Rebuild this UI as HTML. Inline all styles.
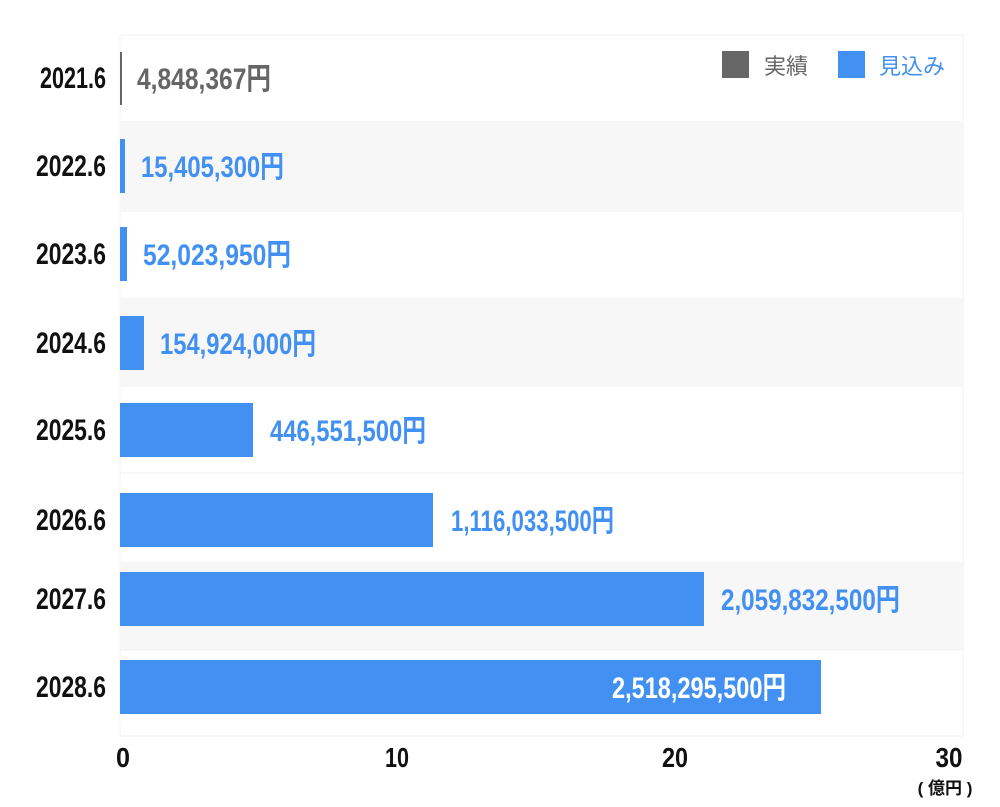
<!DOCTYPE html>
<html><head><meta charset="utf-8"><style>body{margin:0;background:#fff}</style></head><body>
<svg width="1000" height="802" xmlns="http://www.w3.org/2000/svg" font-family="Liberation Sans, Noto Sans CJK JP, sans-serif">
<rect x="120" y="35" width="843" height="701" fill="#fff" stroke="#f0f0f0"/>
<rect x="120" y="121" width="843" height="91" fill="#f7f7f7"/>
<rect x="120" y="298" width="843" height="89" fill="#f7f7f7"/>
<rect x="120" y="562" width="843" height="88" fill="#f7f7f7"/>
<line x1="120" y1="473" x2="963" y2="473" stroke="#f0f0f0"/>
<line x1="120" y1="650" x2="963" y2="650" stroke="#f0f0f0"/>
<g font-weight="bold" font-size="30" text-anchor="end" fill="#111">
<text x="106" y="88" textLength="66" lengthAdjust="spacingAndGlyphs">2021.6</text>
<text x="106" y="176" textLength="70" lengthAdjust="spacingAndGlyphs">2022.6</text>
<text x="106" y="264" textLength="70" lengthAdjust="spacingAndGlyphs">2023.6</text>
<text x="106" y="353" textLength="70" lengthAdjust="spacingAndGlyphs">2024.6</text>
<text x="106" y="440" textLength="70" lengthAdjust="spacingAndGlyphs">2025.6</text>
<text x="106" y="530" textLength="70" lengthAdjust="spacingAndGlyphs">2026.6</text>
<text x="106" y="609" textLength="70" lengthAdjust="spacingAndGlyphs">2027.6</text>
<text x="106" y="697" textLength="70" lengthAdjust="spacingAndGlyphs">2028.6</text>
</g>
<rect x="120" y="52" width="2" height="53" fill="#666"/>
<rect x="120" y="139" width="5" height="54" fill="#4190f2"/>
<rect x="120" y="227" width="7" height="54" fill="#4190f2"/>
<rect x="120" y="316" width="24" height="54" fill="#4190f2"/>
<rect x="120" y="403" width="133" height="54" fill="#4190f2"/>
<rect x="120" y="493" width="313" height="54" fill="#4190f2"/>
<rect x="120" y="572" width="584" height="54" fill="#4190f2"/>
<rect x="120" y="660" width="701" height="54" fill="#4190f2"/>
<g font-weight="bold" font-size="30">
<text x="137" y="89" fill="#666" textLength="134" lengthAdjust="spacingAndGlyphs">4,848,367円</text>
<text x="141" y="177" fill="#4190f2" textLength="143" lengthAdjust="spacingAndGlyphs">15,405,300円</text>
<text x="143" y="265" fill="#4190f2" textLength="148" lengthAdjust="spacingAndGlyphs">52,023,950円</text>
<text x="160" y="354" fill="#4190f2" textLength="156" lengthAdjust="spacingAndGlyphs">154,924,000円</text>
<text x="270" y="441" fill="#4190f2" textLength="156" lengthAdjust="spacingAndGlyphs">446,551,500円</text>
<text x="451" y="531" fill="#4190f2" textLength="163" lengthAdjust="spacingAndGlyphs">1,116,033,500円</text>
<text x="721" y="610" fill="#4190f2" textLength="179" lengthAdjust="spacingAndGlyphs">2,059,832,500円</text>
<text x="612" y="698" fill="#fff" textLength="174" lengthAdjust="spacingAndGlyphs">2,518,295,500円</text>
</g>
<rect x="722" y="51" width="27" height="27" fill="#666"/>
<text x="764" y="74" font-size="22" fill="#666">実績</text>
<rect x="838" y="51" width="27" height="27" fill="#4190f2"/>
<text x="879" y="74" font-size="22" fill="#4190f2">見込み</text>
<g font-weight="bold" font-size="28" fill="#111" text-anchor="middle">
<text x="123" y="767" textLength="14" lengthAdjust="spacingAndGlyphs">0</text>
<text x="397" y="767" textLength="24" lengthAdjust="spacingAndGlyphs">10</text>
<text x="675" y="767" textLength="26" lengthAdjust="spacingAndGlyphs">20</text>
<text x="949" y="767" textLength="27" lengthAdjust="spacingAndGlyphs">30</text>
</g>
<text x="945" y="794" font-size="17" font-weight="bold" fill="#111" text-anchor="middle">( 億円 )</text>
</svg>
</body></html>
